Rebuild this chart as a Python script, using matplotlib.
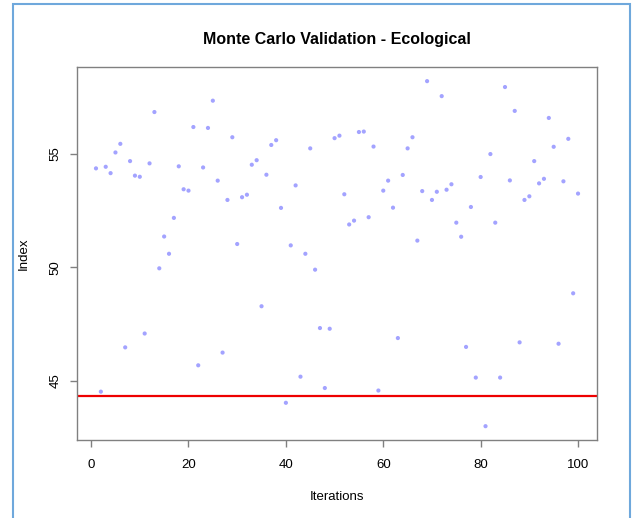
import matplotlib
matplotlib.use("Agg")
import matplotlib.pyplot as plt
from matplotlib.patches import Rectangle

plt.rcParams['font.family'] = ['Liberation Sans', 'DejaVu Sans']

iterations = list(range(1, 101))
index_vals = [
    54.36, 44.53, 54.43, 54.15, 55.06, 55.44, 46.48, 54.68, 54.04, 53.99,
    47.09, 54.58, 56.84, 49.96, 51.36, 50.60, 52.18, 54.45, 53.44, 53.38,
    56.18, 45.69, 54.40, 56.14, 57.34, 53.82, 46.25, 52.97, 55.73, 51.03,
    53.09, 53.20, 54.52, 54.72, 48.29, 54.08, 55.39, 55.60, 52.62, 44.04,
    50.97, 53.61, 45.19, 50.60, 55.24, 49.90, 47.33, 44.69, 47.30, 55.69,
    55.80, 53.22, 51.89, 52.06, 55.96, 55.98, 52.21, 55.32, 44.58, 53.38,
    53.82, 52.63, 46.89, 54.07, 55.24, 55.73, 51.18, 53.36, 58.20, 52.97,
    53.33, 57.54, 53.42, 53.66, 51.97, 51.35, 46.50, 52.66, 45.15, 53.98,
    43.01, 54.99, 51.97, 45.15, 57.94, 53.83, 56.89, 46.70, 52.97, 53.13,
    54.68, 53.70, 53.90, 56.58, 55.31, 46.64, 53.79, 55.66, 48.86, 53.25,
]
threshold = 44.32

fig = plt.figure(figsize=(6.37, 5.18), dpi=100)
ax = fig.add_axes([0.1204, 0.1506, 0.8173, 0.7194])

ax.scatter(iterations, index_vals, s=9, c='#a3a3ff', edgecolors='none', zorder=3)
ax.axhline(threshold, color='#ee0000', lw=1.6, zorder=2)

# R-style 4% padding
pad_x = (max(iterations) - min(iterations)) * 0.04
pad_y = (max(index_vals) - min(index_vals)) * 0.04
ax.set_xlim(min(iterations) - pad_x, max(iterations) + pad_x)
ax.set_ylim(min(index_vals) - pad_y, max(index_vals) + pad_y)

ax.set_xticks([0, 20, 40, 60, 80, 100])
ax.set_yticks([45, 50, 55])
ax.set_yticklabels(['45', '50', '55'], rotation=90, va='center')
ax.tick_params(direction='out', length=5, width=1, color='#808080',
               labelsize=9.5)
ax.tick_params(axis='x', pad=9)
ax.tick_params(axis='y', pad=6)
for sp in ax.spines.values():
    sp.set_color('#808080')
    sp.set_linewidth(1)

ax.set_title('Monte Carlo Validation - Ecological', fontsize=11.5,
             fontweight='bold', pad=17)
ax.set_xlabel('Iterations', fontsize=9.5, labelpad=14)
ax.set_ylabel('Index', fontsize=9.5, labelpad=14)

# outer frame seen in the screenshot
fig.patches.append(Rectangle((13 / 637, -0.05), 617 / 637, 1.05 - 4 / 518,
                             transform=fig.transFigure, fill=False,
                             edgecolor='#6fa8dc', lw=1.5))

fig.savefig('out.png', dpi=100)
